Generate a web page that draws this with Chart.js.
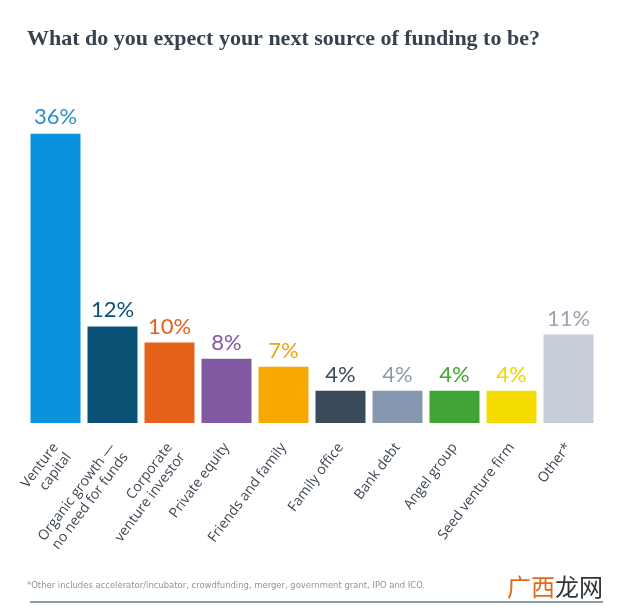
<!DOCTYPE html>
<html>
<head>
<meta charset="utf-8">
<script src="https://cdn.jsdelivr.net/npm/chart.js@4/dist/chart.umd.min.js"></script>
<style>
  html, body { margin: 0; padding: 0; background: #fff; }
  #wrap { width: 635px; height: 616px; position: relative; }
</style>
</head>
<body>
<div id="wrap"><canvas id="funding-chart" width="635" height="616"></canvas></div>
<script>
// answers, in percent
var categories = [
    ['Venture', 'capital'],
    ['Organic growth \u2014', 'no need for funds'],
    ['Corporate', 'venture investor'],
    'Private equity',
    'Friends and family',
    'Family office',
    'Bank debt',
    'Angel group',
    'Seed venture firm',
    'Other*'
];
var shares = [36, 12, 10, 8, 7, 4, 4, 4, 4, 11];

var barColors = ['#0a93dc', '#0b5075', '#e5621a', '#8159a3', '#f6a800',
                 '#394b5b', '#8598b0', '#40a535', '#f4dc00', '#c7ced9'];
var labelColors = ['#2a8fcc', '#0b5075', '#e5621a', '#8159a3', '#f0a510',
                   '#394b5b', '#8b9aab', '#40a535', '#eed600', '#9ba6b2'];

var titleText = 'What do you expect your next source of funding to be?';
var footnoteText = '*Other includes accelerator/incubator, crowdfunding, merger, government grant, IPO and ICO.';

// value on top of each bar, same colour as the bar
var valueLabels = {
    id: 'valueLabels',
    afterDatasetsDraw: function (chart) {
        var ctx = chart.ctx;
        var meta = chart.getDatasetMeta(0);
        ctx.save();
        ctx.font = '22px Lato, "Open Sans", sans-serif';
        ctx.textAlign = 'center';
        ctx.textBaseline = 'alphabetic';
        meta.data.forEach(function (bar, i) {
            ctx.fillStyle = labelColors[i];
            ctx.fillText(shares[i] + '%', bar.x, bar.y - 9);
        });
        ctx.restore();
    }
};

// footnote, rule and the site mark at the bottom
var footer = {
    id: 'footer',
    afterDraw: function (chart) {
        var ctx = chart.ctx;
        ctx.save();
        ctx.font = '9.4px "Liberation Sans Narrow", "DejaVu Sans Condensed", sans-serif';
        ctx.fillStyle = '#8f959d';
        ctx.textBaseline = 'middle';
        ctx.textAlign = 'left';
        ctx.fillText(footnoteText, 27, 586);

        ctx.strokeStyle = '#8c9bab';
        ctx.lineWidth = 2;
        ctx.beginPath();
        ctx.moveTo(30, 602);
        ctx.lineTo(603, 602);
        ctx.stroke();

        ctx.font = '24px "Noto Sans CJK SC", sans-serif';
        ctx.fillStyle = '#e06a1f';
        ctx.fillText('\u5e7f\u897f', 507, 587);
        var w = ctx.measureText('\u5e7f\u897f').width;
        ctx.fillStyle = '#333333';
        ctx.fillText('\u9f99\u7f51', 507 + w, 587);
        ctx.restore();
    }
};

var chart = new Chart(document.getElementById('funding-chart'), {
    type: 'bar',
    data: {
        labels: categories,
        datasets: [{
            data: shares,
            backgroundColor: barColors,
            borderWidth: 0,
            categoryPercentage: 1,
            barPercentage: 0.877
        }]
    },
    options: {
        responsive: false,
        animation: false,
        events: [],
        layout: { padding: { left: 27, right: 38, top: 0, bottom: 0 } },
        plugins: {
            legend: { display: false },
            tooltip: { enabled: false },
            title: {
                display: true,
                text: titleText,
                align: 'start',
                color: '#37424f',
                font: { family: '"Liberation Serif", serif', size: 22, weight: 'bold', lineHeight: 1.2 },
                padding: { top: 26, bottom: 81 }
            }
        },
        scales: {
            y: { display: false, min: 0, max: 36 },
            x: {
                grid: { display: false, drawTicks: false },
                border: { display: false },
                ticks: {
                    color: '#3c4550',
                    font: { family: '"Open Sans", sans-serif', size: 14, lineHeight: 1.15 },
                    minRotation: 53,
                    maxRotation: 53,
                    autoSkip: false,
                    padding: 17
                },
                afterFit: function (scale) { scale.height = 193; }
            }
        }
    },
    plugins: [valueLabels, footer]
});
</script>
</body>
</html>
